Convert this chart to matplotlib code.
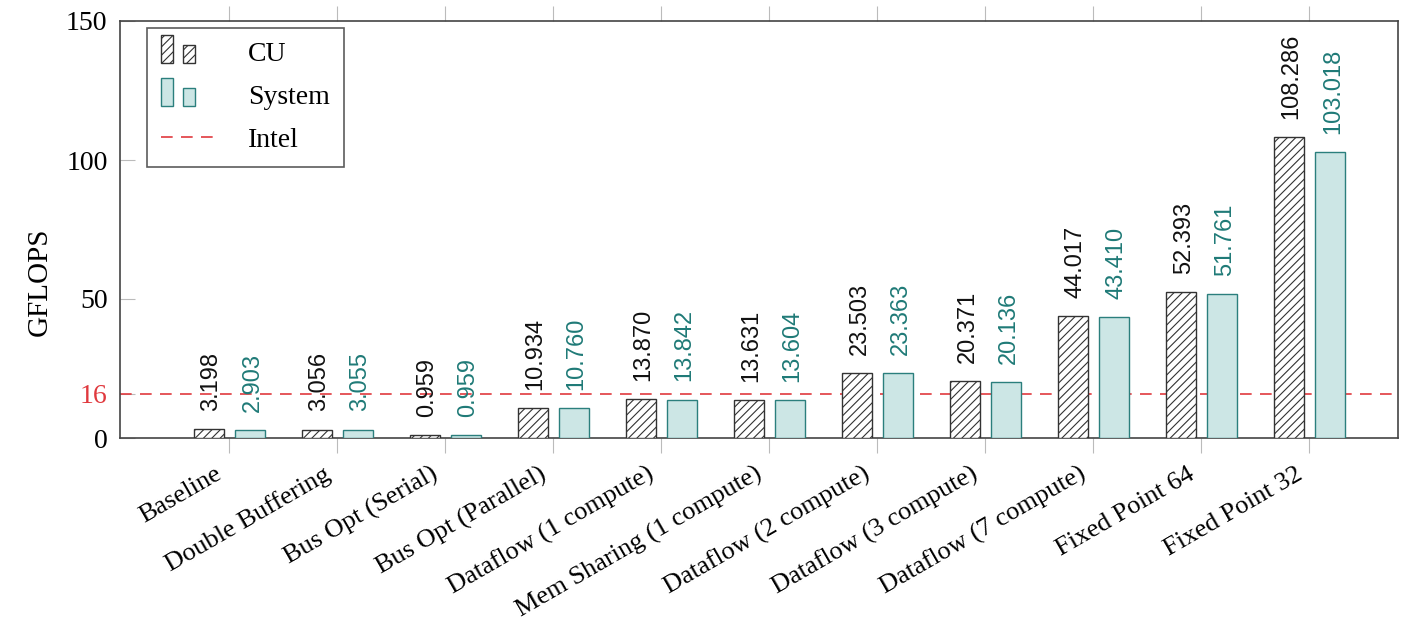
import numpy as np
import matplotlib
matplotlib.use("Agg")
import matplotlib.pyplot as plt
import matplotlib.transforms as mtransforms
from matplotlib.patches import Rectangle
from matplotlib.lines import Line2D
from matplotlib.legend_handler import HandlerBase

# Data
categories = ["Baseline", "Double Buffering", "Bus Opt (Serial)", "Bus Opt (Parallel)",
              "Dataflow (1 compute)", "Mem Sharing (1 compute)", "Dataflow (2 compute)",
              "Dataflow (3 compute)", "Dataflow (7 compute)", "Fixed Point 64", "Fixed Point 32"]
cu_values = [3.198, 3.056, 0.959, 10.934, 13.870, 13.631, 23.503, 20.371, 44.017, 52.393, 108.286]
system_values = [2.903, 3.055, 0.959, 10.760, 13.842, 13.604, 23.363, 20.136, 43.410, 51.761, 103.018]
intel_value = 16
y_ticks = [0, 16, 50, 100, 150]

TEAL_FILL = "#cce6e5"
TEAL_EDGE = "#2b7f7d"
TEAL_TEXT = "#1f7a77"
RED = "#e0393e"
SERIF = "Liberation Serif"
LABEL_FONT = "Liberation Sans"

plt.rcParams["hatch.linewidth"] = 0.8


class TwoBarHandler(HandlerBase):
    """Legend icon like pgfplots draws it: two small bars."""

    def __init__(self, face, edge, hatch=None):
        super().__init__()
        self.face, self.edge, self.hatch = face, edge, hatch

    def create_artists(self, legend, orig_handle, xdescent, ydescent, width, height, fontsize, trans):
        artists = []
        bw = width * 0.2
        for x0, h in [(0, height * 1.45), (width * 0.37, height * 0.95)]:
            r = Rectangle((x0 - xdescent, -ydescent - 0.1 * height), bw, h,
                          facecolor=self.face, edgecolor=self.edge, hatch=self.hatch,
                          linewidth=1.0, transform=trans)
            artists.append(r)
        return artists


fig = plt.figure(figsize=(14.01, 6.25), dpi=100)
ax = fig.add_axes([0.0857, 0.2992, 0.9122, 0.6672])

x = np.arange(len(categories))
offset = 0.19
width = 0.28

ax.bar(x - offset, cu_values, width, facecolor="white", edgecolor="#333333",
       hatch="////", linewidth=1.0, zorder=3)
ax.bar(x + offset, system_values, width, facecolor=TEAL_FILL, edgecolor=TEAL_EDGE,
       linewidth=1.0, zorder=3)

ax.axhline(intel_value, color=RED, linestyle=(0, (7, 5)), linewidth=1.2, zorder=2)

for xi, v in zip(x, cu_values):
    ax.annotate(f"{v:.3f}", (xi - offset, v), xytext=(2, 13), textcoords="offset points",
                rotation=90, ha="center", va="bottom", fontsize=17,
                family=LABEL_FONT, color="#111111")
for xi, v in zip(x, system_values):
    ax.annotate(f"{v:.3f}", (xi + offset, v), xytext=(2, 13), textcoords="offset points",
                rotation=90, ha="center", va="bottom", fontsize=17,
                family=LABEL_FONT, color=TEAL_TEXT)

ax.set_xlim(-1.01, 10.82)
ax.set_ylim(0, 150)

ax.set_xticks(x)
ax.set_xticklabels(categories, rotation=30, ha="right", va="center", rotation_mode="anchor",
                   fontsize=19, family=SERIF)
ax.tick_params(axis="x", which="both", direction="out", length=11, width=0.8,
               color="#bbbbbb", top=True, pad=14)
shift = mtransforms.ScaledTranslation(-9 / 100, 0, fig.dpi_scale_trans)
for lbl in ax.get_xticklabels():
    lbl.set_transform(lbl.get_transform() + shift)

ax.set_yticks(y_ticks)
ax.set_yticklabels([str(t) for t in y_ticks], fontsize=20, family=SERIF)
ax.get_yticklabels()[1].set_color(RED)
ax.tick_params(axis="y", direction="in", length=11, width=0.8, color="#bbbbbb", pad=9)

ax.set_ylabel("GFLOPS", fontsize=21, family=SERIF)
ax.yaxis.set_label_coords(-0.053, 0.375)

for s in ax.spines.values():
    s.set_color("#444444")
    s.set_linewidth(1.2)

cu_h = Rectangle((0, 0), 1, 1)
sys_h = Rectangle((0, 0), 1, 1)
intel_h = Line2D([], [], color=RED, linestyle=(0, (7, 5)), linewidth=1.2)
leg = ax.legend([cu_h, sys_h, intel_h], ["CU", "System", "Intel"],
                handler_map={cu_h: TwoBarHandler("white", "#333333", "////"),
                             sys_h: TwoBarHandler(TEAL_FILL, TEAL_EDGE)},
                loc="upper left", bbox_to_anchor=(0.021, 0.983), borderaxespad=0,
                frameon=True, fancybox=False,
                edgecolor="#333333", prop={"family": SERIF, "size": 20},
                handlelength=2.15, handletextpad=1.0, labelspacing=0.62, borderpad=0.5)
leg.get_frame().set_linewidth(1.2)

fig.savefig("out.png", dpi=100)
